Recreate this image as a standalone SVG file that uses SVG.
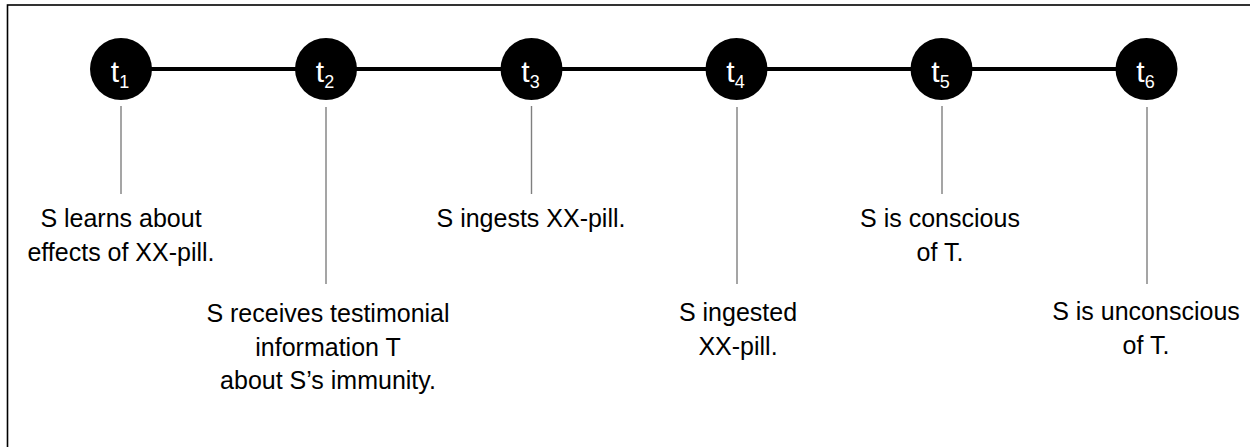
<svg xmlns="http://www.w3.org/2000/svg" width="1250" height="447" viewBox="0 0 1250 447">
<style>
.frame{fill:#fff;stroke:#000;stroke-width:1.6}
.axis{stroke:#000;stroke-width:4}
.tick{stroke:#7f7f7f;stroke-width:1.4}
.dot{fill:#000}
.tl{font-family:"Liberation Sans",Arial,sans-serif;font-size:30px;fill:#fff;text-anchor:middle}
.sub{font-size:18px}
.lbl{font-family:"Liberation Sans",Arial,sans-serif;font-size:25px;fill:#000;text-anchor:middle}
</style>
<rect class="frame" x="7.5" y="5" width="1300" height="500"/>
<g id="connectors">
<line class="axis" x1="121" y1="69" x2="1146" y2="69"/>
<line class="tick" x1="121" y1="106" x2="121" y2="194"/>
<line class="tick" x1="326" y1="107" x2="326" y2="284"/>
<line class="tick" x1="531.5" y1="106" x2="531.5" y2="194"/>
<line class="tick" x1="737" y1="107" x2="737" y2="284"/>
<line class="tick" x1="942" y1="106" x2="942" y2="194"/>
<line class="tick" x1="1147" y1="107" x2="1147" y2="284"/>
</g>
<g id="t1">
<circle class="dot" cx="121" cy="69" r="31"/>
<text class="tl" x="120" y="82">t<tspan class="sub" dy="6">1</tspan></text>
<text class="lbl" x="121" y="227">S learns about</text>
<text class="lbl" x="121" y="261">effects of XX-pill.</text>
</g>
<g id="t2">
<circle class="dot" cx="326" cy="69" r="31"/>
<text class="tl" x="325" y="82">t<tspan class="sub" dy="6">2</tspan></text>
<text class="lbl" x="328" y="322">S receives testimonial</text>
<text class="lbl" x="328" y="356">information T</text>
<text class="lbl" x="328" y="389">about S’s immunity.</text>
</g>
<g id="t3">
<circle class="dot" cx="531.5" cy="69" r="31"/>
<text class="tl" x="530.5" y="82">t<tspan class="sub" dy="6">3</tspan></text>
<text class="lbl" x="531" y="227">S ingests XX-pill.</text>
</g>
<g id="t4">
<circle class="dot" cx="736.5" cy="69" r="31"/>
<text class="tl" x="735.5" y="82">t<tspan class="sub" dy="6">4</tspan></text>
<text class="lbl" x="738" y="321">S ingested</text>
<text class="lbl" x="738" y="355">XX-pill.</text>
</g>
<g id="t5">
<circle class="dot" cx="941.5" cy="69" r="31"/>
<text class="tl" x="940.5" y="82">t<tspan class="sub" dy="6">5</tspan></text>
<text class="lbl" x="940" y="227">S is conscious</text>
<text class="lbl" x="940" y="261">of T.</text>
</g>
<g id="t6">
<circle class="dot" cx="1146.5" cy="69" r="31"/>
<text class="tl" x="1145.5" y="82">t<tspan class="sub" dy="6">6</tspan></text>
<text class="lbl" x="1146" y="320">S is unconscious</text>
<text class="lbl" x="1146" y="354">of T.</text>
</g>
</svg>
